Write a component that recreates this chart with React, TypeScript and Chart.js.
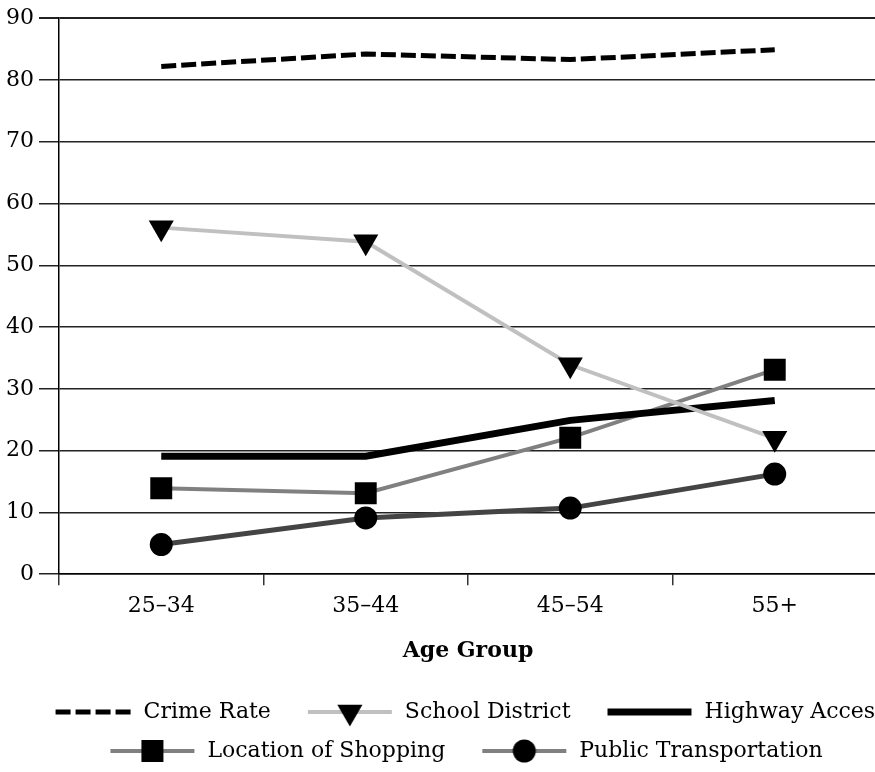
import React, { useEffect, useRef } from 'react';
import { Chart, registerables } from 'chart.js';

Chart.register(...registerables);

const categories = ['25–34', '35–44', '45–54', '55+'];
const crimeRate = [82.2, 84.2, 83.3, 84.9];
const schoolDistrict = [56.1, 53.8, 33.9, 22.0];
const highwayAccess = [19.1, 19.1, 24.9, 28.1];
const locationOfShopping = [13.9, 13.1, 22.1, 33.1];
const publicTransportation = [4.8, 9.1, 10.7, 16.2];
const seriesNames = ['Crime Rate', 'School District', 'Highway Access', 'Location of Shopping', 'Public Transportation'];
const yMin = 0;
const yMax = 90;
const yStep = 10;
const xTitle = 'Age Group';

const FONT = 'DejaVu Serif';
const W = 912;
const H = 772;
const RIGHT_GUTTER = 35;

type SampleSpec = {
  color: string;
  width: number;
  dash?: number[];
  marker?: 'triangle' | 'rect' | 'circle';
  start?: number;
};

function makeSample(s: SampleSpec): HTMLCanvasElement {
  const c = document.createElement('canvas');
  c.width = 106;
  c.height = 30;
  const g = c.getContext('2d')!;
  g.strokeStyle = s.color;
  g.lineWidth = s.width;
  g.setLineDash(s.dash || []);
  g.beginPath();
  g.moveTo(s.start ?? 20, 15);
  g.lineTo(104, 15);
  g.stroke();
  g.setLineDash([]);
  g.fillStyle = '#000';
  const cx = 62;
  const cy = 15;
  if (s.marker === 'triangle') {
    const r = 14.5;
    g.beginPath();
    g.moveTo(cx - r * Math.sin(Math.PI / 3), cy - r / 2);
    g.lineTo(cx + r * Math.sin(Math.PI / 3), cy - r / 2);
    g.lineTo(cx, cy + r);
    g.closePath();
    g.fill();
  } else if (s.marker === 'rect') {
    g.fillRect(cx - 11, cy - 11, 22, 22);
  } else if (s.marker === 'circle') {
    g.beginPath();
    g.arc(cx, cy, 11.5, 0, Math.PI * 2);
    g.fill();
  }
  return c;
}

export default function App() {
  const ref = useRef<HTMLCanvasElement | null>(null);

  useEffect(() => {
    if (!ref.current) return;
    const samples = [
      makeSample({ color: '#000', width: 5, dash: [15, 5], start: 29 }),
      makeSample({ color: '#c0c0c0', width: 4, marker: 'triangle' }),
      makeSample({ color: '#000', width: 7 }),
      makeSample({ color: '#808080', width: 4, marker: 'rect' }),
      makeSample({ color: '#808080', width: 4, marker: 'circle' }),
    ];
    const chart = new Chart(ref.current, {
      type: 'line',
      data: {
        labels: categories,
        datasets: [
          {
            label: seriesNames[0],
            data: crimeRate,
            borderColor: '#000',
            borderWidth: 5,
            borderDash: [15, 5],
            pointRadius: 0,
            tension: 0,
          },
          {
            label: seriesNames[1],
            data: schoolDistrict,
            borderColor: '#c0c0c0',
            borderWidth: 4,
            pointStyle: 'triangle',
            pointRotation: 180,
            pointRadius: 14.5,
            pointBackgroundColor: '#000',
            pointBorderColor: '#000',
            pointBorderWidth: 0,
            tension: 0,
          },
          {
            label: seriesNames[2],
            data: highwayAccess,
            borderColor: '#000',
            borderWidth: 7,
            pointRadius: 0,
            tension: 0,
          },
          {
            label: seriesNames[3],
            data: locationOfShopping,
            borderColor: '#808080',
            borderWidth: 4,
            pointStyle: 'rect',
            pointRadius: 15.5,
            pointBackgroundColor: '#000',
            pointBorderColor: '#000',
            pointBorderWidth: 0,
            tension: 0,
          },
          {
            label: seriesNames[4],
            data: publicTransportation,
            borderColor: '#444',
            borderWidth: 5,
            pointStyle: 'circle',
            pointRadius: 11.5,
            pointBackgroundColor: '#000',
            pointBorderColor: '#000',
            pointBorderWidth: 0,
            tension: 0,
          },
        ],
      },
      options: {
        responsive: false,
        animation: false,
        events: [],
        layout: { padding: { top: 13, left: 1, right: 0, bottom: 0 } },
        font: { family: FONT, size: 22 },
        scales: {
          x: {
            type: 'category',
            offset: true,
            grid: {
              offset: true,
              drawOnChartArea: false,
              drawTicks: true,
              tickLength: 11,
              color: '#333',
              lineWidth: 1.5,
            },
            border: { display: true, color: '#000', width: 1.5 },
            ticks: { color: '#000', padding: 8, font: { family: FONT, size: 22 }, maxRotation: 0 },
            title: {
              display: true,
              text: xTitle,
              color: '#000',
              font: { family: FONT, size: 22, weight: 'bold' },
              padding: { top: 10, bottom: 20 },
            },
          },
          y: {
            min: yMin,
            max: yMax,
            grid: {
              color: '#222',
              lineWidth: (c: any) => (c.tick && c.tick.value === yMax ? 2 : 1.5),
              drawTicks: true,
              tickLength: 20,
            },
            border: { display: true, color: '#000', width: 1.5 },
            ticks: { stepSize: yStep, color: '#000', padding: 5, font: { family: FONT, size: 22 } },
          },
          gutter: {
            type: 'linear',
            position: 'right',
            display: true,
            grid: { display: false, drawTicks: false },
            border: { display: false },
            ticks: { display: false },
            afterFit: (s: any) => {
              s.width = RIGHT_GUTTER;
            },
          },
        },
        plugins: {
          legend: {
            display: true,
            position: 'bottom',
            labels: {
              usePointStyle: true,
              pointStyleWidth: 106,
              padding: 17,
              color: '#000',
              font: { family: FONT, size: 22 },
              generateLabels: (ch: any) =>
                ch.data.datasets.map((ds: any, i: number) => ({
                  text: ds.label,
                  pointStyle: samples[i],
                  rotation: 0,
                  fillStyle: 'transparent',
                  strokeStyle: 'transparent',
                  lineWidth: 0,
                  hidden: false,
                  datasetIndex: i,
                  fontColor: '#000',
                })),
            },
          },
          tooltip: { enabled: false },
        },
      } as any,
    });
    return () => chart.destroy();
  }, []);

  return (
    <div style={{ position: 'fixed', left: 0, top: 0, width: 875, height: 772, overflow: 'hidden', background: '#fff' }}>
      <canvas ref={ref} width={W} height={H} style={{ display: 'block', width: W, height: H }} />
    </div>
  );
}
